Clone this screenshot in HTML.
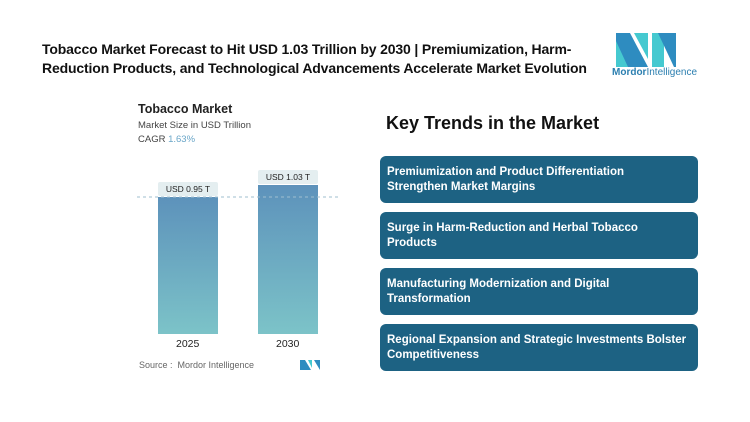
<!DOCTYPE html>
<html><head><style>
body{margin:0;width:750px;height:422px;background:#fff;font-family:"Liberation Sans",sans-serif;position:relative;overflow:hidden}
.a{position:absolute}
.t{left:42px;top:40px;font-size:14px;letter-spacing:-0.15px;font-weight:bold;line-height:19px;color:#111;width:600px;white-space:nowrap}
.box{position:absolute;left:380px;width:318px;height:47px;background:#1d6283;border-radius:6px;color:#fff;font-size:11.5px;font-weight:bold;line-height:15px;box-sizing:border-box;padding:9px 40px 9px 7px}
.lbl{position:absolute;background:#e4eef0;font-size:8.5px;color:#222;padding:2px 0;text-align:center;border-radius:2px}
</style></head><body>
<div class="a t">Tobacco Market Forecast to Hit USD 1.03 Trillion by 2030 | Premiumization, Harm-<br>Reduction Products, and Technological Advancements Accelerate Market Evolution</div>
<svg class="a" style="left:612px;top:31px" width="68" height="38" viewBox="0 0 68 38">
<polygon points="4,2 18,2 36,36 4,36" fill="#2e8cc0"/>
<polygon points="4,10 4,36 16,36" fill="#45c9d0"/>
<polygon points="22,2 36,2 36,28" fill="#45c9d0"/>
<polygon points="40,2 52,2 52,36 40,36" fill="#45c9d0"/>
<polygon points="46,2 64,2 64,36 62,36" fill="#2e8cc0"/>
</svg>
<div class="a" style="left:612px;top:67px;font-size:10px;color:#2c7fb0"><b style="font-weight:600">Mordor</b>Intelligence</div>
<div class="a" style="left:138px;top:102px;font-size:12.5px;font-weight:bold;color:#222">Tobacco Market</div>
<div class="a" style="left:138px;top:120px;font-size:9.5px;color:#444">Market Size in USD Trillion</div>
<div class="a" style="left:138px;top:134px;font-size:9.5px;color:#444">CAGR <span style="color:#6aa6c8">1.63%</span></div>
<svg class="a" style="left:0;top:0" width="750" height="422">
<defs><linearGradient id="g" x1="0" y1="0" x2="0" y2="1"><stop offset="0" stop-color="#5d92bb"/><stop offset="1" stop-color="#7cc3c8"/></linearGradient></defs>
<rect x="158" y="197" width="60" height="137" fill="url(#g)"/>
<rect x="258" y="185" width="60" height="149" fill="url(#g)"/>
<line x1="137" y1="197" x2="341" y2="197" stroke="#9fbfcf" stroke-dasharray="3,3"/>
</svg>
<div class="lbl" style="left:158px;top:182px;width:60px">USD 0.95 T</div>
<div class="lbl" style="left:258px;top:170px;width:60px">USD 1.03 T</div>
<div class="a" style="left:176px;top:338px;font-size:10.5px;color:#222">2025</div>
<div class="a" style="left:276px;top:338px;font-size:10.5px;color:#222">2030</div>
<div class="a" style="left:139px;top:360px;font-size:9px;color:#666">Source : &nbsp;Mordor Intelligence</div>
<svg class="a" style="left:300px;top:360px" width="20" height="10"><polygon points="0,0 5,0 11,10 0,10" fill="#2e8cc0"/><polygon points="8,0 12,0 12,8" fill="#45c9d0"/><polygon points="14,0 20,0 20,10" fill="#2e8cc0"/></svg>
<div class="a" style="left:386px;top:113px;font-size:18px;font-weight:bold;color:#111">Key Trends in the Market</div>
<div class="box" style="top:156px">Premiumization and Product Differentiation Strengthen Market Margins</div>
<div class="box" style="top:212px">Surge in Harm-Reduction and Herbal Tobacco Products</div>
<div class="box" style="top:268px">Manufacturing Modernization and Digital Transformation</div>
<div class="box" style="top:324px;padding-right:6px">Regional Expansion and Strategic Investments Bolster Competitiveness</div>
</body></html>
